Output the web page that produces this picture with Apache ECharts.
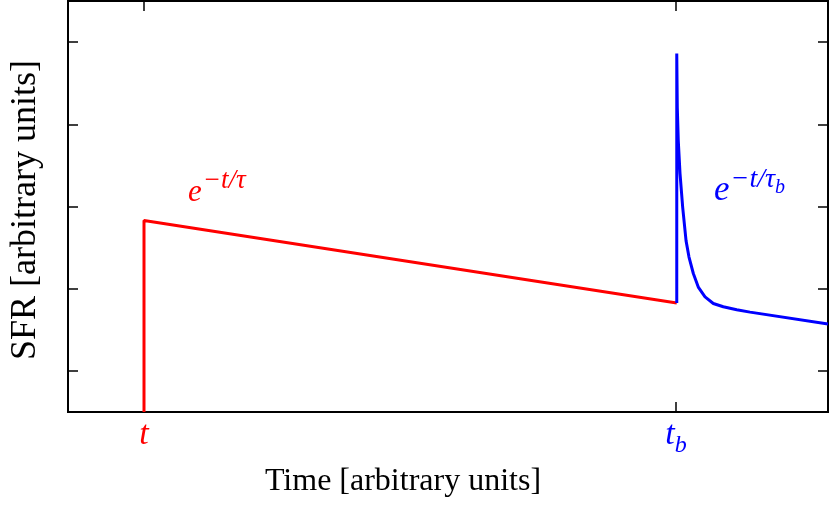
<!DOCTYPE html>
<html>
<head>
<meta charset="utf-8">
<script src="https://cdn.jsdelivr.net/npm/echarts@6/dist/echarts.min.js"></script>
<style>html,body{margin:0;padding:0;background:#fff}#c{width:830px;height:509px}</style>
</head>
<body>
<div id="c"></div>
<script>
// ---- data (arbitrary units) ----
var xRange = [0, 10];
var yRange = [0, 10];
var xTickValues = [1, 8];            // t, t_b
var xTickLabels = ['t', 't_b'];
var yTickValues = [1, 3, 5, 7, 9];
// main (red) population: starts at t, slow decay
var redX = [1, 1, 8.01];
var redY = [0, 4.66, 2.65];
// burst (blue) population: starts at t_b
var blueX = [8.01, 8.01, 8.017, 8.03, 8.053, 8.088, 8.132, 8.171, 8.228, 8.293, 8.382, 8.491, 8.622, 8.799, 8.974, 10];
var blueY = [2.65, 8.72, 7.41, 6.60, 5.80, 4.98, 4.17, 3.77, 3.37, 3.04, 2.80, 2.64, 2.56, 2.49, 2.43, 2.14];
var xName = 'Time [arbitrary units]';
var yName = 'SFR [arbitrary units]';

function pairs(xs, ys) { return xs.map(function (x, i) { return [x, ys[i]]; }); }

var serif = 'Liberation Serif';
var RED = '#ff0000', BLUE = '#0000ff';

var chart = echarts.init(document.getElementById('c'), null, {renderer: 'canvas'});

function tickAxis(pos, isX, showLabel) {
  var a = {
    type: 'value', position: pos,
    min: (isX ? xRange : yRange)[0], max: (isX ? xRange : yRange)[1],
    axisLine: {show: false, onZero: false},
    splitLine: {show: false},
    axisTick: {show: true, inside: true, length: 10, customValues: isX ? xTickValues : yTickValues,
               lineStyle: {color: '#000', width: 1.5}},
    axisLabel: {show: false, customValues: isX ? xTickValues : yTickValues}
  };
  if (showLabel) {
    a.axisLabel = {
      show: true, customValues: xTickValues, margin: 0,
      formatter: function (v) {
        var idx = xTickValues.indexOf(v);
        var lab = xTickLabels[idx] || '';
        if (lab.indexOf('_') >= 0) {
          var p = lab.split('_');
          return '{b|' + p[0] + '}{bs|' + p[1] + '}';
        }
        return '{r|' + lab + '}';
      },
      rich: {
        r: {color: RED, fontFamily: serif, fontStyle: 'italic', fontSize: 34, lineHeight: 40, verticalAlign: 'bottom'},
        b: {color: BLUE, fontFamily: serif, fontStyle: 'italic', fontSize: 34, lineHeight: 40, verticalAlign: 'bottom'},
        bs: {color: BLUE, fontFamily: serif, fontStyle: 'italic', fontSize: 24, lineHeight: 40, verticalAlign: 'bottom', padding: [0, 0, -6, 0]}
      }
    };
  }
  return a;
}

chart.setOption({
  animation: false,
  backgroundColor: '#fff',
  grid: {left: 68, right: 2, top: 1, bottom: 97, show: true, borderColor: '#000', borderWidth: 2, backgroundColor: 'transparent'},
  xAxis: [tickAxis('bottom', true, true), tickAxis('top', true, false)],
  yAxis: [tickAxis('left', false, false), tickAxis('right', false, false)],
  series: [
    {type: 'line', data: pairs(redX, redY), showSymbol: false, symbol: 'none',
     lineStyle: {color: RED, width: 3}, itemStyle: {color: RED}, clip: true,
     markPoint: {symbol: 'circle', symbolSize: 0, silent: true,
       data: [{coord: [1.58, 5.45]}],
       label: {show: true, position: 'right', distance: 0, formatter: '{e|e}{s|−t/τ}',
         rich: {
           e: {color: RED, fontFamily: serif, fontStyle: 'italic', fontSize: 31, lineHeight: 40, verticalAlign: 'bottom'},
           s: {color: RED, fontFamily: serif, fontStyle: 'italic', fontSize: 27, lineHeight: 40, verticalAlign: 'bottom', padding: [0, 0, 14, 1]}
         }}}},
    {type: 'line', data: pairs(blueX, blueY), showSymbol: false, symbol: 'none',
     lineStyle: {color: BLUE, width: 3}, itemStyle: {color: BLUE}, clip: true,
     markPoint: {symbol: 'circle', symbolSize: 0, silent: true,
       data: [{coord: [8.5, 5.45]}],
       label: {show: true, position: 'right', distance: 0, formatter: '{e|e}{s|−t/τ}{b|b}',
         rich: {
           e: {color: BLUE, fontFamily: serif, fontStyle: 'italic', fontSize: 35, lineHeight: 40, verticalAlign: 'bottom'},
           s: {color: BLUE, fontFamily: serif, fontStyle: 'italic', fontSize: 28, lineHeight: 40, verticalAlign: 'bottom', padding: [0, 0, 14, 1]},
           b: {color: BLUE, fontFamily: serif, fontStyle: 'italic', fontSize: 20, lineHeight: 40, verticalAlign: 'bottom', padding: [0, 0, 10, 0]}
         }}}}
  ],
  graphic: [
    {type: 'text', style: {text: xName, x: 403, y: 482, align: 'center', verticalAlign: 'middle',
      fontFamily: serif, fontSize: 32, fill: '#000'}, silent: true},
    {type: 'text', style: {text: yName, align: 'center', verticalAlign: 'middle',
      fontFamily: serif, fontSize: 36, fill: '#000'}, x: 26, y: 210, rotation: Math.PI / 2, silent: true}
  ]
});
</script>
</body>
</html>
